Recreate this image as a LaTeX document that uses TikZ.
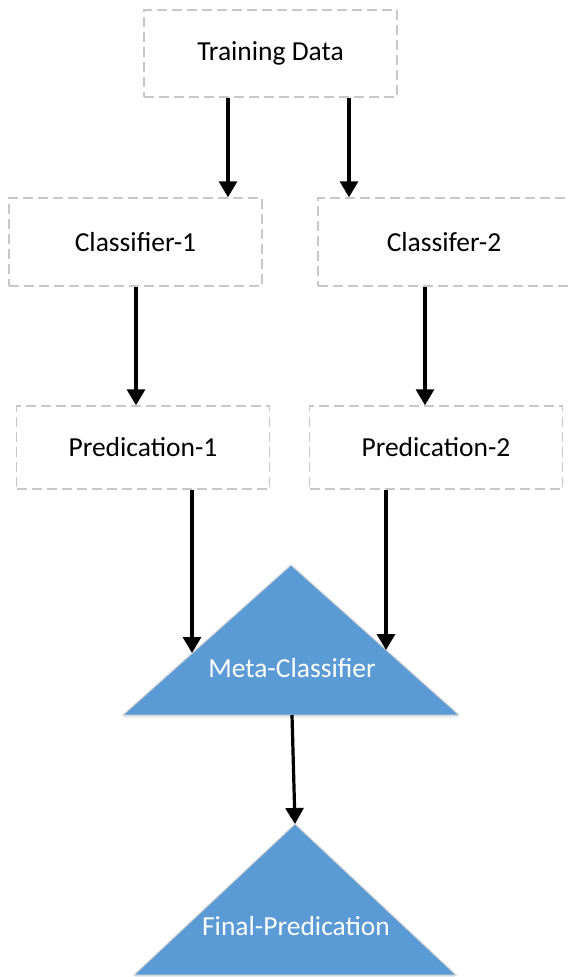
\documentclass[tikz,border=0pt]{standalone}
\usepackage{fontspec}
\setmainfont{Carlito}
\usetikzlibrary{arrows.meta,shadows}
\definecolor{triblue}{HTML}{5B9BD5}
\definecolor{boxgray}{HTML}{C8C8C8}
\begin{document}
\begin{tikzpicture}[x=1pt,y=-1pt,
  dbox/.style={draw=boxgray, dash pattern=on 10pt off 5pt, line width=1.4pt,
    minimum width=253pt, minimum height=87pt, inner sep=0pt,
    font=\fontsize{27.5}{31}\selectfont},
  arr/.style={line width=3.2pt, -{Triangle[width=18pt,length=16pt]}},
  tri/.style={fill=triblue, draw=gray!35, line width=1pt,
    drop shadow={opacity=0.18, shadow xshift=0pt, shadow yshift=-2.5pt, fill=triblue!60!gray}},
  tlabel/.style={text=white, inner sep=0pt, font=\fontsize{27.5}{31}\selectfont}]
\useasboundingbox (0,0) rectangle (569,977);

% boxes
\node[dbox] (train) at (270.5,53.5) {Training Data};
\node[dbox, minimum height=88pt] (c1) at (135.5,242) {Classifier-1};
\node[dbox, minimum height=88pt, minimum width=252pt] (c2) at (444,242) {Classifer-2};
\node[dbox, minimum height=83pt] (p1) at (143,447.5) {Predication-1};
\node[dbox, minimum height=83pt] (p2) at (436,447.5) {Predication-2};

% triangles
\coordinate (metaA) at (291,565);
\coordinate (metaL) at (123,715);
\coordinate (metaR) at (459,715);
\coordinate (metaB) at (292,715);
\coordinate (metaInL) at (192,653);
\coordinate (metaInR) at (386,650);
\coordinate (finA) at (295,824);
\coordinate (finL) at (134,975);
\coordinate (finR) at (456,975);
\draw[tri] (metaA) -- (metaR) -- (metaL) -- cycle;
\draw[tri] (finA) -- (finR) -- (finL) -- cycle;
\node[tlabel] (meta) at (292,668) {Meta-Classifier};
\node[tlabel] (final) at (296,926) {Final-Predication};

% connectors
\draw[arr] ([xshift=-42.5pt]train.south) -- ([xshift=92.5pt]c1.north);
\draw[arr] ([xshift=78.5pt]train.south) -- ([xshift=-95pt]c2.north);
\draw[arr] ([xshift=0.5pt]c1.south) -- ([xshift=-7pt]p1.north);
\draw[arr] ([xshift=-19pt]c2.south) -- ([xshift=-11pt]p2.north);
\draw[arr] ([xshift=49pt]p1.south) -- (metaInL);
\draw[arr] ([xshift=-50pt]p2.south) -- (metaInR);
\draw[arr] (metaB) -- (finA);
\end{tikzpicture}
\end{document}
